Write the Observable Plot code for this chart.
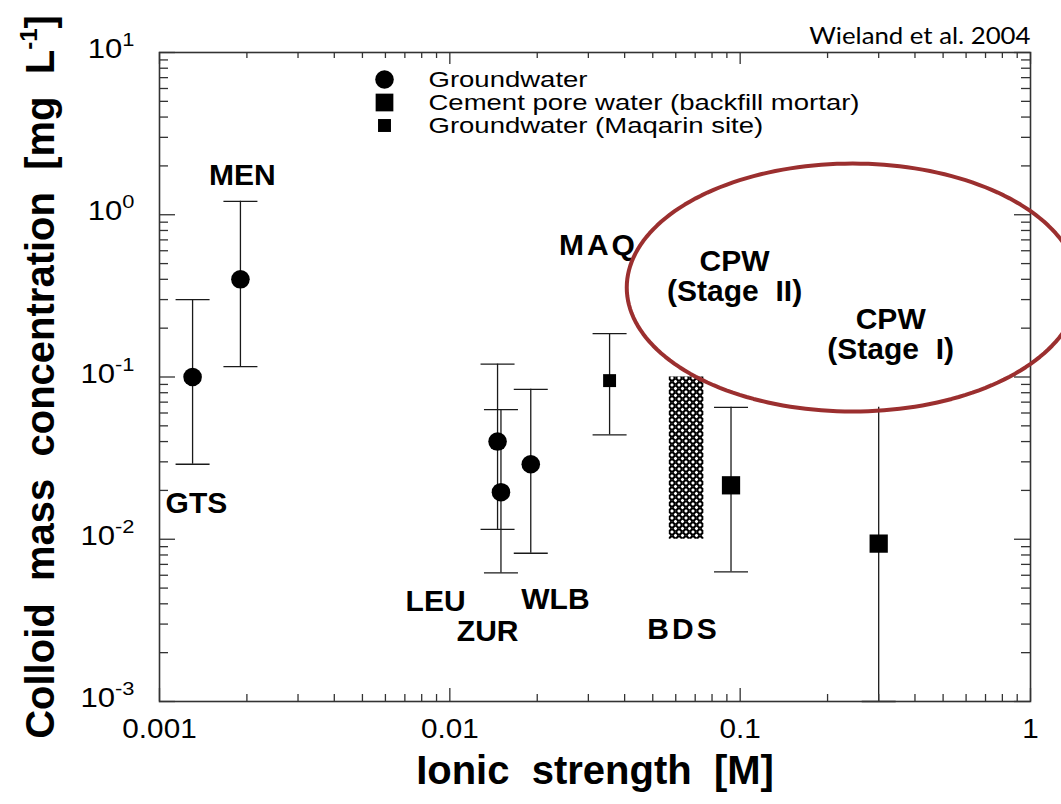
<!DOCTYPE html>
<html>
<head>
<meta charset="utf-8">
<script src="https://cdn.jsdelivr.net/npm/d3@7"></script>
<script src="https://cdn.jsdelivr.net/npm/@observablehq/plot@0.6"></script>
<style>
  html, body { margin: 0; padding: 0; background: #fff; overflow: hidden; }
  #chart svg text { white-space: pre; }
</style>
</head>
<body>
<div id="chart"></div>
<script>
// ---------------- data ----------------
const sites = ["GTS", "MEN", "LEU", "ZUR", "WLB", "MAQ", "CPW II", "CPW I"];
const ionicStrength = [0.0013, 0.0019, 0.0146, 0.0150, 0.019, 0.0355, 0.093, 0.30];
const colloidConc   = [0.10, 0.40, 0.040, 0.0195, 0.029, 0.095, 0.0215, 0.0094];
const concLow       = [0.029, 0.116, 0.0115, 0.0062, 0.0082, 0.044, 0.0063, 0.001];
const concHigh      = [0.30, 1.21, 0.12, 0.063, 0.084, 0.185, 0.065, 0.065];
const upperCapShown = [true, true, true, true, true, true, true, false];
const waterType = ["Groundwater", "Groundwater", "Groundwater", "Groundwater", "Groundwater",
  "Groundwater (Maqarin site)", "Cement pore water (backfill mortar)", "Cement pore water (backfill mortar)"];

// BDS range (hatched box)
const bdsIonic = [0.057, 0.075];
const bdsConc  = [0.01, 0.1];

// site labels (anchor in data units: centre / baseline)
const labelText = ["MEN", "GTS", "LEU", "ZUR", "WLB", "MAQ", "BDS", "CPW\n(Stage  II)", "CPW\n(Stage  I)"];
const labelX    = [0.00193, 0.00134, 0.00893, 0.0135, 0.0231, 0.0325, 0.0638, 0.0957, 0.330];
const labelY    = [1.53, 0.0146, 0.00359, 0.00235, 0.00374, 0.561, 0.00244, 0.296, 0.130];

// legend
const legendLabels = ["Groundwater", "Cement pore water (backfill mortar)", "Groundwater (Maqarin site)"];
const legendSymbols = ["circle", "square", "square"];

// highlight ellipse (centre in data units, radii in decades)
const highlightCenter = [0.244, 0.356];
const highlightRadiusDecades = [0.778, 0.764];

// axes
const xMajor = [0.001, 0.01, 0.1, 1];
const xTickLabels = ["0.001", "0.01", "0.1", "1"];
const yMajor = [0.001, 0.01, 0.1, 1, 10];
const yTickLabels = ["10^-3", "10^-2", "10^-1", "10^0", "10^1"];
const xTitle = "Ionic  strength  [M]";
const yTitle = "Colloid  mass  concentration  [mg  L^-1]";
const citation = "Wieland et al. 2004";

// ---------------- layout ----------------
const W = 1061, H = 804;
const mL = 159, mR = 31, mT = 52, mB = 103;
const fw = W - mL - mR, fh = H - mT - mB;

const points = sites.map((s, i) => ({
  site: s, x: ionicStrength[i], y: colloidConc[i], lo: concLow[i], hi: concHigh[i],
  type: waterType[i], capHi: upperCapShown[i]
}));
const caps = points.flatMap(p => [{x: p.x, y: p.lo}].concat(p.capHi ? [{x: p.x, y: p.hi}] : []));
const labels = labelText.map((t, i) => ({text: t, x: labelX[i], y: labelY[i]}));

const xMinor = xMajor.slice(0, -1).flatMap(d => d3.range(2, 10).map(k => k * d));
const yMinor = yMajor.slice(0, -1).flatMap(d => d3.range(2, 10).map(k => k * d));

const ellipse = d3.range(0, 360, 2).map(a => {
  const t = a * Math.PI / 180;
  return {
    x: Math.pow(10, Math.log10(highlightCenter[0]) + highlightRadiusDecades[0] * Math.cos(t)),
    y: Math.pow(10, Math.log10(highlightCenter[1]) + highlightRadiusDecades[1] * Math.sin(t))
  };
});

const capSymbol = {
  draw(ctx, size) {
    const w = Math.sqrt(size / Math.PI);
    ctx.moveTo(-w, 0); ctx.lineTo(w, 0);
  }
};

const ink = "#1a1a1a";
const tickInk = "#333";

const legendMarks = legendLabels.flatMap((lab, i) => {
  const dy = 27 + i * 23;
  const r = i === 0 ? 9.3 : i === 1 ? 10 : 7.3;
  return [
    Plot.dot([lab], {frameAnchor: "top-left", dx: 225, dy, r, symbol: legendSymbols[i], fill: "black", stroke: "none"}),
    Plot.text([lab], {frameAnchor: "top-left", dx: 269, dy, text: d => d, textAnchor: "start", lineAnchor: "middle", fontSize: 22, fill: "black"})
  ];
});

const plot = Plot.plot({
  width: W, height: H,
  marginLeft: mL, marginRight: mR, marginTop: mT, marginBottom: mB,
  style: {fontFamily: "'Liberation Sans', Arial, sans-serif", background: "white", color: "black", overflow: "hidden"},
  x: {type: "log", domain: [0.001, 1]},
  y: {type: "log", domain: [0.001, 10]},
  marks: [
    // hatched BDS box
    Plot.rect([0], {x1: () => bdsIonic[0], x2: () => bdsIonic[1], y1: () => bdsConc[0], y2: () => bdsConc[1], fill: "url(#mesh)"}),
    // error bars
    Plot.ruleX(points, {x: "x", y1: "lo", y2: "hi", stroke: ink, strokeWidth: 1.3}),
    Plot.dot(caps, {x: "x", y: "y", r: 17, symbol: capSymbol, stroke: ink, strokeWidth: 1.3, fill: "none"}),
    // markers
    Plot.dot(points.filter(p => p.type === "Groundwater"), {x: "x", y: "y", r: 9.3, fill: "black", stroke: "none"}),
    Plot.dot(points.filter(p => p.type === "Cement pore water (backfill mortar)"), {x: "x", y: "y", r: 10.3, symbol: "square", fill: "black", stroke: "none"}),
    Plot.dot(points.filter(p => p.type === "Groundwater (Maqarin site)"), {x: "x", y: "y", r: 7.3, symbol: "square", fill: "black", stroke: "none"}),
    // inward ticks on all four sides
    Plot.tickX(xMajor, {x: d => d, insetTop: fh - 13, stroke: tickInk, strokeWidth: 1.3}),
    Plot.tickX(xMinor, {x: d => d, insetTop: fh - 7, stroke: tickInk, strokeWidth: 1.3}),
    Plot.tickX(xMajor, {x: d => d, insetBottom: fh - 12, stroke: tickInk, strokeWidth: 1.3}),
    Plot.tickX(xMinor, {x: d => d, insetBottom: fh - 6, stroke: tickInk, strokeWidth: 1.3}),
    Plot.tickY(yMajor, {y: d => d, insetRight: fw - 16, stroke: tickInk, strokeWidth: 1.3}),
    Plot.tickY(yMinor, {y: d => d, insetRight: fw - 9, stroke: tickInk, strokeWidth: 1.3}),
    Plot.tickY(yMajor, {y: d => d, insetLeft: fw - 16, stroke: tickInk, strokeWidth: 1.3}),
    Plot.tickY(yMinor, {y: d => d, insetLeft: fw - 9, stroke: tickInk, strokeWidth: 1.3}),
    Plot.frame({stroke: tickInk, strokeWidth: 1.6}),
    // axes labels
    Plot.axisX({ticks: xMajor, tickFormat: d => xTickLabels[xMajor.indexOf(d)], tickSize: 0, tickPadding: 17, fontSize: 27, label: null, fill: "black"}),
    Plot.axisY({ticks: yMajor, tickFormat: d => yTickLabels[yMajor.indexOf(d)], tickSize: 0, tickPadding: 25, fontSize: 27, label: null, fill: "black", dy: -3}),
    Plot.text([xTitle], {frameAnchor: "bottom", dy: 82, text: d => d, textAnchor: "middle", lineAnchor: "bottom", fontSize: 40, fontWeight: "bold", fill: "black"}),
    Plot.text([yTitle], {frameAnchor: "left", dx: -106, rotate: -90, text: d => d, textAnchor: "middle", lineAnchor: "bottom", fontSize: 40, fontWeight: "bold", fill: "black"}),
    Plot.text([citation], {frameAnchor: "top-right", dy: -9, text: d => d, textAnchor: "end", lineAnchor: "bottom", fontSize: 23, fontFamily: "Lato, 'Open Sans', sans-serif", fill: "black"}),
    // site labels
    Plot.text(labels, {x: "x", y: "y", text: "text", lineAnchor: "bottom", fontSize: 30, fontWeight: "bold", lineHeight: 1.0, fill: "black"}),
    // legend
    ...legendMarks,
    // highlight ellipse
    Plot.line(ellipse, {x: "x", y: "y", curve: "linear-closed", stroke: "#9b2f2f", strokeWidth: 4, fill: "none"})
  ]
});

// pattern for BDS box
const svgSel = d3.select(plot);
const defs = svgSel.insert("defs", ":first-child");
const pat = defs.append("pattern").attr("id", "mesh").attr("patternUnits", "userSpaceOnUse")
  .attr("width", 7).attr("height", 7);
pat.append("rect").attr("width", 7).attr("height", 7).attr("fill", "white");
[[0,0],[7,0],[0,7],[7,7],[3.5,3.5]].forEach(([cx, cy]) =>
  pat.append("circle").attr("cx", cx).attr("cy", cy).attr("r", 2.5)
    .attr("fill", "none").attr("stroke", "black").attr("stroke-width", 1.6));

// superscripts
function supify(el, supSize, shift) {
  const s = el.textContent;
  const m = s.match(/^(.*)\^(-?\d+)(.*)$/);
  if (!m) return;
  el.textContent = "";
  const ns = "http://www.w3.org/2000/svg";
  const a = document.createElementNS(ns, "tspan"); a.textContent = m[1]; el.appendChild(a);
  const b = document.createElementNS(ns, "tspan"); b.textContent = m[2];
  b.setAttribute("font-size", supSize); b.setAttribute("dy", -shift); el.appendChild(b);
  if (m[3]) {
    const c = document.createElementNS(ns, "tspan"); c.textContent = m[3];
    c.setAttribute("dy", shift); el.appendChild(c);
  }
}
const stretchTargets = [];
svgSel.selectAll("text").each(function() {
  const t = this.textContent;
  if (t === yTitle) supify(this, 24, 17);
  else if (yTickLabels.includes(t)) { supify(this, 19, 12); stretchTargets.push([this, 1.15]); }
  if (t === "MAQ" || t === "BDS") this.setAttribute("letter-spacing", "3");
  if (legendLabels.includes(t)) stretchTargets.push([this, 1.25]);
  if (xTickLabels.includes(t)) stretchTargets.push([this, 1.1]);
  if (t === citation) stretchTargets.push([this, 1.12]);
});

document.getElementById("chart").appendChild(plot);

// horizontal stretch of some texts (the reference typeface is wider)
stretchTargets.forEach(([el, f]) => {
  const len = el.getComputedTextLength();
  el.setAttribute("textLength", (len * f).toFixed(1));
  el.setAttribute("lengthAdjust", "spacingAndGlyphs");
});
</script>
</body>
</html>
